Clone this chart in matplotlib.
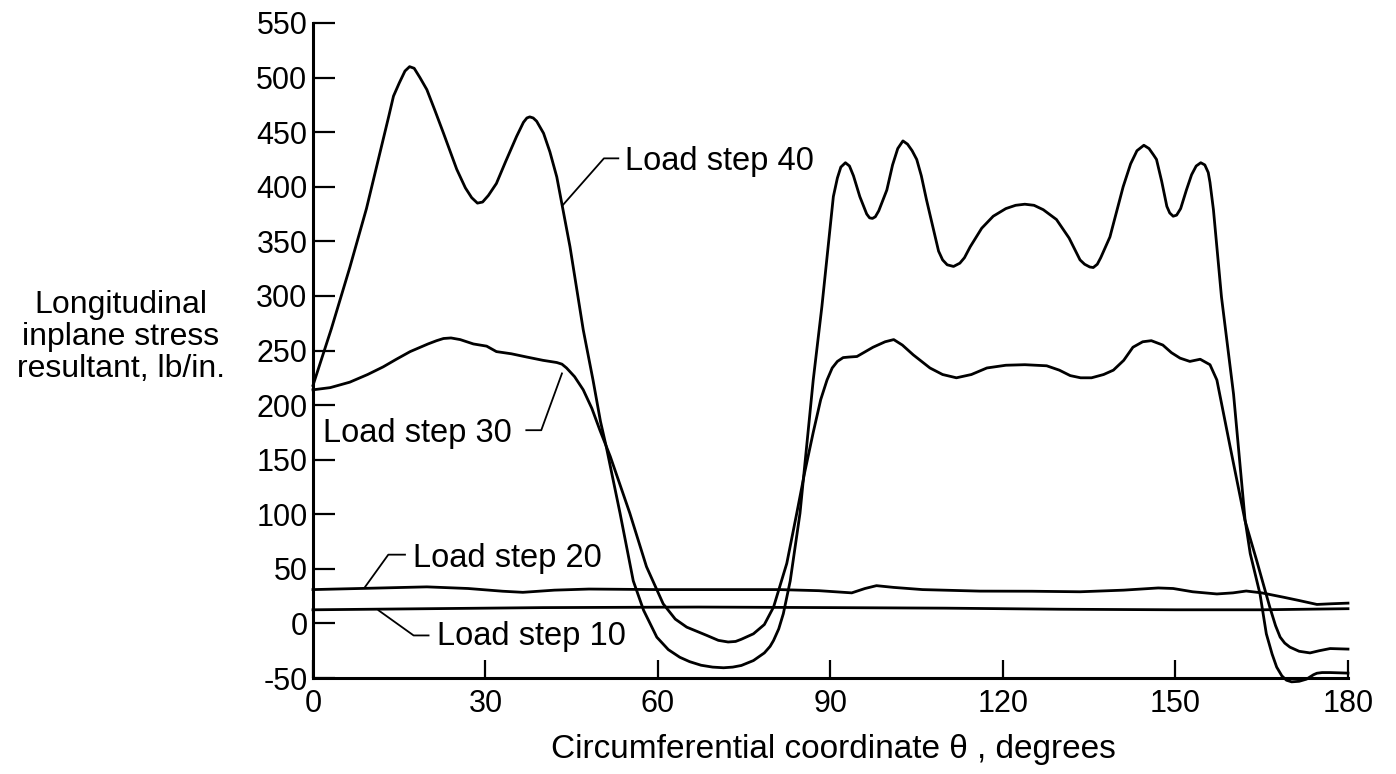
import matplotlib
matplotlib.use('Agg')
import matplotlib.pyplot as plt

plt.rcParams['font.family'] = ['Liberation Sans', 'DejaVu Sans']
plt.rcParams['axes.unicode_minus'] = False

# Load step 40
theta_40 = [0, 3.2, 6.4, 9.3, 12.2, 13.2, 14.0, 15.0, 16.0, 16.8, 17.6, 18.6, 19.8, 21.2, 22.7,
            25.0, 26.5, 27.6, 28.6, 29.5, 30.5, 31.9, 33.5, 35.4, 36.6, 37.2, 37.7, 38.3, 38.9,
            40.1, 41.2, 42.4, 44.7, 47.0, 48.7, 50.0, 51.0, 53.4, 55.7, 57.5, 59.8, 61.8, 63.8,
            65.5, 67.5, 69.5, 71.4, 73.0, 74.5, 76.6, 78.5, 79.5, 80.1, 81.0, 81.8, 83.0, 84.7,
            86.0, 87.0, 88.5, 90.5, 91.2, 91.8, 92.6, 93.3, 94.0, 95.1, 96.3, 96.8, 97.3, 97.8,
            98.4, 99.8, 100.8, 101.7, 102.6, 103.4, 104.2, 105.0, 105.8, 106.7, 108.8, 109.5,
            110.3, 111.4, 112.5, 113.3, 114.3, 116.3, 118.3, 120.5, 122.2, 123.8, 125.4, 127.0,
            129.3, 131.5, 133.4, 134.2, 135.1, 135.7, 136.4, 137.0, 138.6, 140.9, 142.2, 143.3,
            144.5, 145.4, 146.2, 146.7, 147.6, 148.5, 149.0, 149.6, 150.2, 150.9, 151.9, 152.8,
            153.6, 154.4, 155.1, 155.7, 156.0, 156.6, 158.0, 160.1, 162.1, 163.0, 164.7, 165.8,
            166.8, 167.6, 168.5, 169.3, 170.2, 171.5, 172.8, 174.0, 174.6, 175.5, 176.9, 180]
stress_40 = [218, 270, 326, 380, 443, 465, 483, 495, 506, 510, 508.5, 500, 489, 470, 449,
             416, 399, 390, 385, 386, 392, 403, 423, 446, 459, 463, 464, 463, 460,
             449, 432, 409, 345, 269, 223, 185, 162, 101, 39, 12, -12.6, -24, -31,
             -35, -38.3, -40, -40.6, -40, -38.5, -34, -27, -21, -15.6, -5, 8.9, 39, 101,
             170, 223, 290, 391, 408, 418, 422, 419, 410, 391, 375, 371.5, 371, 372.5,
             378, 397, 420, 435, 442, 439, 433, 425, 410, 388, 341, 333,
             328.5, 327, 330, 335, 345, 362, 373, 380, 383, 384, 383, 379,
             370, 353, 333, 329, 326.5, 326, 329, 335, 354, 400, 421, 433,
             438, 435, 429, 425, 405, 382, 376, 373, 374, 380, 397, 411,
             419, 422, 420, 413, 404, 379, 299, 210, 95, 64, 27, -9.5,
             -28, -40, -48, -52, -53.5, -53, -51, -47, -45.6, -45, -45, -45.5]

# Load step 30
theta_30 = [0, 3.0, 6.4, 9.5, 12.2, 14.5, 16.9, 20.0, 21.5, 22.7, 24.0, 25.6, 27.9, 30.2,
            31.9, 34.5, 37.2, 40.0, 42.4, 43.3, 44.1, 45.5, 47.0, 48.5, 49.9, 51.7, 55.1,
            58.0, 60.9, 63.0, 65.0, 68.5, 70.5, 72.2, 73.5, 74.5, 76.6, 78.5, 80.1, 82.4,
            84.1, 85.5, 87.0, 88.3, 89.4, 90.3, 91.2, 92.2, 93.2, 94.6, 97.4, 99.5, 101.0,
            102.5, 104.4, 107.3, 109.5, 111.9, 114.5, 117.2, 120.5, 123.8, 127.6, 129.8,
            131.7, 133.5, 135.4, 137.5, 139.2, 141.0, 142.6, 144.3, 145.8, 147.8, 149.3,
            150.8, 152.5, 154.3, 156.0, 157.2, 159.5, 162.1, 164.1, 166.4, 167.4, 168.2,
            169.0, 169.9, 171.5, 173.4, 175.0, 176.9, 180]
stress_30 = [214, 216, 221, 228, 235, 242, 249, 256, 259, 261, 261.5, 260, 256, 254,
             249, 247, 244, 241, 239, 237.5, 234, 226, 214, 197, 177, 153, 101,
             52, 18, 4, -3.4, -11, -15.5, -17, -16.5, -14.5, -9.5, -1, 15, 55,
             100, 138, 175, 205, 223, 234, 240, 243.5, 244, 244.5, 253, 258, 260,
             255, 246, 234, 228, 225, 228, 234, 236.5, 237, 236, 232,
             227, 225, 225, 228, 232, 241, 253, 258, 259, 255, 248,
             243, 240, 242, 237, 223, 162, 94, 58, 15, -2, -12.5,
             -18, -21.7, -25.5, -27, -25, -23, -23.5]

# Load step 20
theta_20 = [0, 8, 19.8, 27, 33, 36.5, 42, 48, 60, 75, 81.2, 88, 93.7, 96, 98, 101, 106,
            116, 125, 133.4, 141, 147, 149.6, 153, 157.2, 160, 162.3, 165, 168.8, 171.5,
            174.6, 177, 180]
stress_20 = [31, 32, 33.5, 32, 29.5, 28.5, 30.5, 31.5, 31, 31, 31, 30, 28, 32, 34.6, 33, 31,
             29.6, 29.5, 29, 30.5, 32.5, 32, 29, 27, 28, 29.7, 28, 24, 21,
             17.4, 18, 18.6]

# Load step 10
theta_10 = [0, 20, 40, 67, 90, 110, 130, 150, 165, 180]
stress_10 = [12.5, 13.5, 14.5, 15, 14.5, 14, 13, 12.5, 12.5, 13.5]

fig = plt.figure(figsize=(13.96, 7.74), dpi=100)
ax = fig.add_axes([0.2242, 0.124, 0.7414, 0.8463])

for th, s in [(theta_40, stress_40), (theta_30, stress_30), (theta_20, stress_20), (theta_10, stress_10)]:
    ax.plot(th, s, color='black', lw=2.0, solid_joinstyle='round', clip_on=False)

ax.set_xlim(0, 180)
ax.set_ylim(-50, 550)
ax.set_xticks(range(0, 181, 30))
ax.set_yticks(range(-50, 551, 50))
for side in ['top', 'right']:
    ax.spines[side].set_visible(False)
for side in ['left', 'bottom']:
    ax.spines[side].set_linewidth(2.2)
ax.tick_params(axis='y', direction='in', length=16, width=1.6, labelsize=22, pad=4)
ax.tick_params(axis='x', direction='in', length=13, width=1.6, labelsize=22, pad=8)

# etiquettes des courbes avec traits de rappel
lab = dict(fontsize=23.5, va='baseline', ha='left')
ax.text(54.3, 415.6, 'Load step 40', **lab)
ax.plot([53.1, 50.6, 43.5], [426, 426, 383.5], color='black', lw=1.3)
ax.text(1.8, 166.3, 'Load step 30', **lab)
ax.plot([37.1, 39.7, 43.3], [177, 177, 229], color='black', lw=1.3)
ax.text(17.4, 51.7, 'Load step 20', **lab)
ax.plot([16.0, 13.1, 9.0], [63, 63, 33], color='black', lw=1.3)
ax.text(21.5, -20.2, 'Load step 10', **lab)
ax.plot([20.1, 17.5, 11.4], [-11, -11, 12], color='black', lw=1.3)

# titres des axes
fig.text(833 / 1396, 1 - 758 / 774, 'Circumferential coordinate \u03b8 , degrees',
         fontsize=24, ha='center', va='baseline')
for i, line in enumerate(['Longitudinal', 'inplane stress', 'resultant, lb/in.']):
    fig.text(121 / 1396, 1 - (313 + 32 * i) / 774, line, fontsize=23, ha='center', va='baseline')

fig.savefig('out.png', dpi=100)
